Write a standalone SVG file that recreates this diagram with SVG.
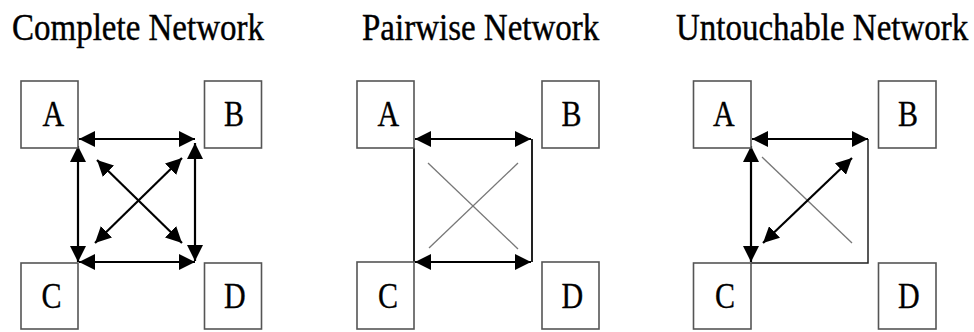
<svg xmlns="http://www.w3.org/2000/svg" width="974" height="332" viewBox="0 0 974 332">
<style>
.title{font-family:"Liberation Serif","Times New Roman",serif;font-size:33px;fill:#000;stroke:#000;stroke-width:0.35}
.lbl{font-family:"Liberation Serif","Times New Roman",serif;font-size:30px;fill:#000;stroke:#000;stroke-width:0.3}
.box{fill:#fff;stroke:#555;stroke-width:1.6}
.arr{stroke:#000;stroke-width:2.2;fill:none;marker-start:url(#ah);marker-end:url(#ah)}
.solid{stroke:#222;stroke-width:2;fill:none}
.thin{stroke:#222;stroke-width:1.5;fill:none}
.faint{stroke:#777;stroke-width:1.3;fill:none}
</style>
<defs>
<marker id="ah" markerUnits="userSpaceOnUse" markerWidth="17" markerHeight="16" refX="16" refY="8" orient="auto-start-reverse" viewBox="0 0 17 16">
<path d="M0,0 L16,8 L0,16 Z" fill="#000"/>
</marker>
</defs>
<rect width="974" height="332" fill="#fff"/>
<g id="titles">
<text class="title" transform="translate(12,40) scale(1,1.17)">Complete Network</text>
<text class="title" transform="translate(362,40) scale(1,1.17)">Pairwise Network</text>
<text class="title" transform="translate(676,40) scale(1,1.17)">Untouchable Network</text>
</g>
<g id="connectors">
<line class="arr" x1="79" y1="139" x2="195" y2="139"/>
<line class="arr" x1="79" y1="262" x2="195" y2="262"/>
<line class="arr" x1="78" y1="146" x2="78" y2="262"/>
<line class="arr" x1="195" y1="143" x2="195" y2="261"/>
<line class="arr" x1="97" y1="160" x2="182" y2="243"/>
<line class="arr" x1="182" y1="158" x2="95" y2="243"/>
<line class="solid" x1="414" y1="148" x2="414" y2="262"/>
<line class="solid" x1="532" y1="139" x2="532" y2="262"/>
<line class="faint" x1="428" y1="163" x2="518" y2="249"/>
<line class="faint" x1="518" y1="163" x2="429" y2="248"/>
<line class="arr" x1="415" y1="139" x2="531" y2="139"/>
<line class="arr" x1="415" y1="262" x2="531" y2="262"/>
<polyline class="thin" points="868,139 868,263 751,263"/>
<line class="faint" x1="762" y1="157" x2="852" y2="243"/>
<line class="arr" x1="752" y1="139" x2="868" y2="139"/>
<line class="arr" x1="751" y1="146" x2="751" y2="262"/>
<line class="arr" x1="852" y1="158" x2="763" y2="243"/>
</g>
<g id="complete-A"><rect class="box" x="21" y="81" width="57" height="67"/><text class="lbl" transform="translate(42.5,126) scale(1,1.2)">A</text></g>
<g id="complete-B"><rect class="box" x="204.5" y="81" width="57" height="67"/><text class="lbl" transform="translate(224,126) scale(1,1.2)">B</text></g>
<g id="complete-C"><rect class="box" x="21" y="263" width="57" height="66"/><text class="lbl" transform="translate(41.5,308) scale(1,1.2)">C</text></g>
<g id="complete-D"><rect class="box" x="204.5" y="263" width="57" height="66"/><text class="lbl" transform="translate(224,308) scale(1,1.2)">D</text></g>
<g id="pairwise-A"><rect class="box" x="357" y="81" width="57" height="67"/><text class="lbl" transform="translate(377.5,126) scale(1,1.2)">A</text></g>
<g id="pairwise-B"><rect class="box" x="542" y="81" width="57" height="67"/><text class="lbl" transform="translate(561.5,126) scale(1,1.2)">B</text></g>
<g id="pairwise-C"><rect class="box" x="357" y="262" width="57" height="67"/><text class="lbl" transform="translate(378,308) scale(1,1.2)">C</text></g>
<g id="pairwise-D"><rect class="box" x="542" y="262" width="57" height="67"/><text class="lbl" transform="translate(561.5,308) scale(1,1.2)">D</text></g>
<g id="untouchable-A"><rect class="box" x="693.5" y="81" width="57.5" height="67"/><text class="lbl" transform="translate(713,126) scale(1,1.2)">A</text></g>
<g id="untouchable-B"><rect class="box" x="878.5" y="81" width="57.5" height="67"/><text class="lbl" transform="translate(898,126) scale(1,1.2)">B</text></g>
<g id="untouchable-C"><rect class="box" x="693.5" y="263" width="57.5" height="66"/><text class="lbl" transform="translate(715,308) scale(1,1.2)">C</text></g>
<g id="untouchable-D"><rect class="box" x="878.5" y="263" width="57.5" height="66"/><text class="lbl" transform="translate(898,308) scale(1,1.2)">D</text></g>
</svg>
